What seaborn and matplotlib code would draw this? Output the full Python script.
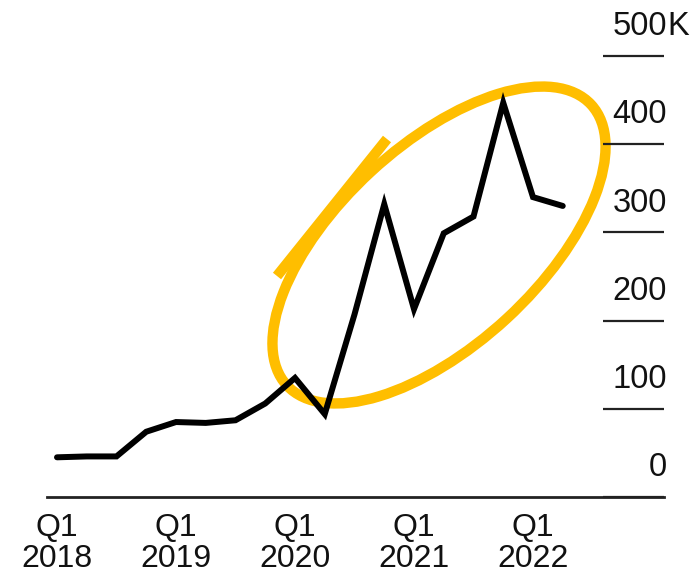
import matplotlib
matplotlib.use("Agg")
import matplotlib.pyplot as plt
from matplotlib.patches import Ellipse
import seaborn as sns
import pandas as pd

# Quarterly values, Q1 2018 through Q2 2022 (thousands)
quarters = ["2018Q1", "2018Q2", "2018Q3", "2018Q4",
            "2019Q1", "2019Q2", "2019Q3", "2019Q4",
            "2020Q1", "2020Q2", "2020Q3", "2020Q4",
            "2021Q1", "2021Q2", "2021Q3", "2021Q4",
            "2022Q1", "2022Q2"]
values = [45, 46, 46, 74, 85, 84, 87, 106,
          135, 94, 207, 332, 213, 299, 318, 447,
          340, 330]

y_ticks = [0, 100, 200, 300, 400, 500]
y_labels = ["0", "100", "200", "300", "400", "500"]
x_tick_pos = [0, 4, 8, 12, 16]
x_tick_labels = ["Q1\n2018", "Q1\n2019", "Q1\n2020", "Q1\n2021", "Q1\n2022"]

df = pd.DataFrame({"idx": range(len(values)), "value": values, "quarter": quarters})

sns.set_style("white")
plt.rcParams["font.family"] = ["Liberation Sans", "DejaVu Sans"]

W, H = 692, 575
fig = plt.figure(figsize=(W / 100, H / 100), dpi=100)
fig.patch.set_facecolor("white")

# Background layer in pixel coordinates for the hand-drawn highlight
bg = fig.add_axes([0, 0, 1, 1], zorder=0)
bg.set_xlim(0, W)
bg.set_ylim(H, 0)
bg.axis("off")
yellow = "#FFBE00"
bg.add_patch(Ellipse((439, 245), width=414, height=200, angle=-42.7,
                     fill=False, edgecolor=yellow, linewidth=7.5))
bg.plot([277, 387], [276, 139], color=yellow, linewidth=7.5,
        solid_capstyle="butt")

left_px, right_px, top_px, bottom_px = 47, 664, 56, 497
ax = fig.add_axes([left_px / W, 1 - bottom_px / H,
                   (right_px - left_px) / W, (bottom_px - top_px) / H], zorder=1)
ax.patch.set_visible(False)

sns.lineplot(data=df, x="idx", y="value", ax=ax, color="black",
             linewidth=4.3, solid_joinstyle="miter")

x0 = -10 / 29.75
ax.set_xlim(x0, x0 + (right_px - left_px) / 29.75)
ax.set_ylim(0, 500)

for s in ["top", "right", "left"]:
    ax.spines[s].set_visible(False)
ax.spines["bottom"].set_color("#222222")
ax.spines["bottom"].set_linewidth(2.0)

ax.set_xticks(x_tick_pos)
ax.set_xticklabels(x_tick_labels, fontsize=23, linespacing=1.03)
ax.tick_params(axis="x", length=9.5, width=1.5, color="#222222",
               pad=2, labelcolor="#111111")
ax.set_yticks([])
ax.set_xlabel("")
ax.set_ylabel("")

# Right-hand value labels sitting above short rule segments
ytr = ax.get_yaxis_transform()
seg_start = (603 - left_px) / (right_px - left_px)
for v, lab in zip(y_ticks, y_labels):
    ax.plot([seg_start, 1.0], [v, v], transform=ytr, color="#222222",
            linewidth=1.6, clip_on=False, solid_capstyle="butt")
    ax.annotate(lab, xy=(1.005, v), xycoords=ytr, xytext=(0, 15),
                textcoords="offset points", ha="right", va="baseline",
                fontsize=23.5, color="#111111", annotation_clip=False)
ax.annotate("K", xy=(1.005, 500), xycoords=ytr, xytext=(0, 15),
            textcoords="offset points", ha="left", va="baseline",
            fontsize=23.5, color="#111111", annotation_clip=False)

fig.savefig("out.png", dpi=100, facecolor="white")
